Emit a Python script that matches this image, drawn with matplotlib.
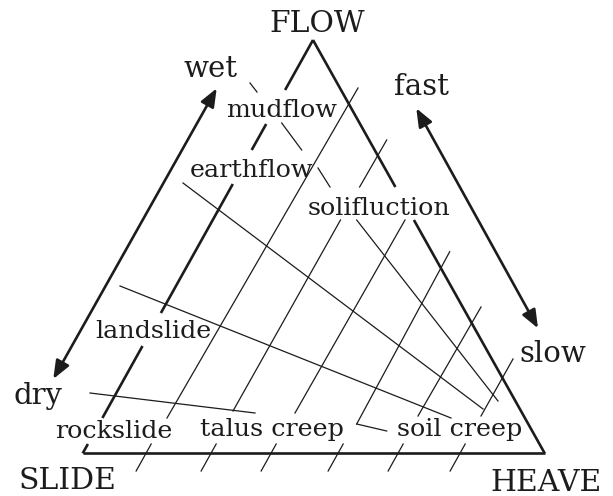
import matplotlib
matplotlib.use("Agg")
import matplotlib.pyplot as plt

# diagram drawn in image pixel coordinates (x right, y down)
LEFT_EDGE = [((313, 40), (285.1, 90)), ((266.2, 124), (251.7, 150)),
             ((232.8, 184), (160.9, 313)), ((142.5, 346), (102.4, 418)),
             ((87.9, 444), (82.7, 453.3))]
RIGHT_EDGE = [((313, 40), (395.4, 187)), ((413.9, 220), (544.7, 453.3))]
BASE = [((82.7, 453.3), (544.7, 453.3))]

GRID_LINES = [
    ((358, 88), (167, 418)),
    ((386.7, 140), (359.6, 187)), ((340.5, 220), (233, 411)),
    ((405, 220), (295, 413)),
    ((449.7, 251.7), (356.7, 424)), ((356.7, 424), (386.7, 431)),
    ((481, 307), (418, 416)),
    ((513, 359), (481, 416)),
    ((250, 83), (257, 92)), ((281.7, 123), (301.7, 150)),
    ((318, 168), (330, 187)), ((356.7, 220), (498, 401)),
    ((183, 183), (483, 409)),
    ((120, 286), (451, 418)),
    ((90, 393), (255, 413)),
]

TICK_X = [146, 211, 271, 338, 398, 460]
TICK_TOP, TICK_BOTTOM = 444, 471

ARROWS = [((216.7, 88.3), (53.3, 379)), ((416.3, 108.3), (538, 328.3))]

CORNER_LABELS = ["FLOW", "SLIDE", "HEAVE"]
CORNER_POS = [(317, 32), (67, 489), (546, 491)]
DIRECTION_LABELS = ["wet", "dry", "fast", "slow"]
DIRECTION_POS = [(211, 77), (38, 404), (421, 95), (553, 362)]
CLASS_LABELS = ["mudflow", "earthflow", "solifluction", "landslide",
                "rockslide", "talus creep", "soil creep"]
CLASS_POS = [(282, 116.7), (251.5, 176.7), (379, 215), (153, 338.3),
             (114, 437.7), (272, 436), (459.5, 436)]

INK = "#1c1c1c"


def main():
    fig = plt.figure(figsize=(6.13, 4.96), dpi=100)
    ax = fig.add_axes([0, 0, 1, 1])
    ax.set_xlim(0, 613)
    ax.set_ylim(496, 0)
    ax.axis("off")

    for (x0, y0), (x1, y1) in LEFT_EDGE + RIGHT_EDGE + BASE:
        ax.plot([x0, x1], [y0, y1], color=INK, lw=1.9, solid_capstyle="butt")

    for (x0, y0), (x1, y1) in GRID_LINES:
        ax.plot([x0, x1], [y0, y1], color=INK, lw=0.9)

    slope = (313 - 82.7) / (453.3 - 40)
    for xc in TICK_X:
        ax.plot([xc + slope * (453.3 - TICK_TOP), xc - slope * (TICK_BOTTOM - 453.3)],
                [TICK_TOP, TICK_BOTTOM], color=INK, lw=0.9)

    for a, b in ARROWS:
        ax.annotate("", xy=a, xytext=b,
                    arrowprops=dict(arrowstyle="<|-|>,head_length=0.55,head_width=0.22",
                                    mutation_scale=20, lw=1.9, color=INK,
                                    shrinkA=0, shrinkB=0))

    font = "DejaVu Serif"
    for t, (x, y) in zip(CORNER_LABELS, CORNER_POS):
        ax.text(x, y, t, ha="center", va="baseline", fontsize=21.5, family=font, color=INK)
    for t, (x, y) in zip(DIRECTION_LABELS, DIRECTION_POS):
        ax.text(x, y, t, ha="center", va="baseline", fontsize=21, family=font, color=INK)
    for t, (x, y) in zip(CLASS_LABELS, CLASS_POS):
        ax.text(x, y, t, ha="center", va="baseline", fontsize=18.3, family=font, color=INK)

    fig.savefig("out.png", dpi=100)


if __name__ == "__main__":
    main()
